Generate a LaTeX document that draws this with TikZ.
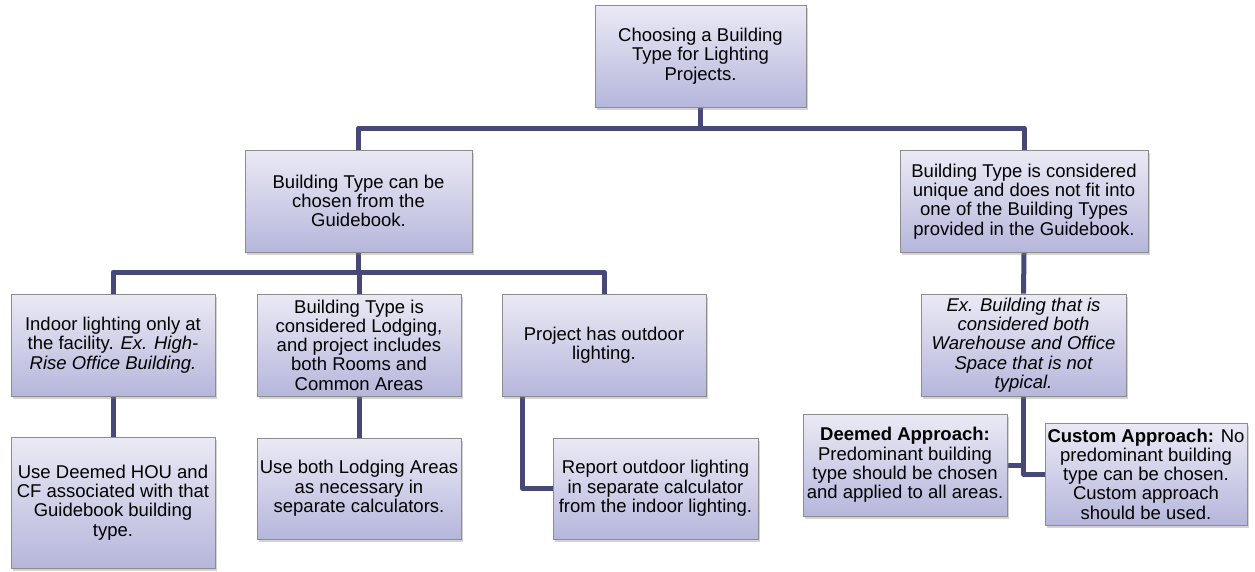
\documentclass[tikz,border=0pt]{standalone}
\usepackage{fontspec}
\setmainfont{Liberation Sans}
\usetikzlibrary{shadows,backgrounds}
\definecolor{boxtop}{RGB}{234,234,245}
\definecolor{boxbot}{RGB}{182,182,220}
\definecolor{linkcol}{RGB}{72,72,120}
\begin{document}
\begin{tikzpicture}[x=1pt,y=-1pt,
  box/.style={draw=gray!90,line width=0.8pt,top color=boxtop,bottom color=boxbot,
    align=center,inner sep=0pt,minimum height=102pt,
    font=\fontsize{18.5}{19.3}\selectfont,
    drop shadow={shadow xshift=1.5pt,shadow yshift=-2.5pt,opacity=0.35}},
  link/.style={draw=linkcol,line width=5pt,line join=round}]
\useasboundingbox (0,0) rectangle (1255,571);
% top level
\node[box,minimum width=211pt] (top) at (700.5,56) {Choosing a Building\\Type for Lighting\\Projects.};
\node[box,minimum width=227pt] (lmid) at (358.5,201) {Building Type can be\\chosen from the\\Guidebook.};
\node[box,minimum width=248pt] (rmid) at (1024,201.5) {Building Type is considered\\unique and does not fit into\\one of the Building Types\\provided in the Guidebook.};
% third row
\node[box,minimum width=204pt] (indoor) at (113,345) {Indoor lighting only at\\the facility. \textit{Ex. High-}\\\textit{Rise Office Building.}};
\node[box,minimum width=204pt] (lodging) at (359,345) {Building Type is\\considered Lodging,\\and project includes\\both Rooms and\\Common Areas};
\node[box,minimum width=204pt] (outdoor) at (604,345) {Project has outdoor\\lighting.};
\node[box,minimum width=205pt,font=\fontsize{18.5}{19.3}\selectfont\itshape] (mixed) at (1023.5,345) {Ex. Building that is\\considered both\\Warehouse and Office\\Space that is not\\typical.};
% bottom row
\node[box,minimum width=204pt,minimum height=131pt] (deemedhou) at (113,502.5) {Use Deemed HOU and\\CF associated with that\\Guidebook building\\type.};
\node[box,minimum width=204pt,minimum height=101pt] (bothareas) at (359,488.5) {Use both Lodging Areas\\as necessary in\\separate calculators.};
\node[box,minimum width=205pt,minimum height=101pt] (separate) at (655.5,488.5) {Report outdoor lighting\\in separate calculator\\from the indoor lighting.};
\node[box,minimum width=204pt] (deemed) at (905,465) {\textbf{Deemed Approach:}\\Predominant building\\type should be chosen\\and applied to all areas.};
\node[box,minimum width=202pt] (custom) at (1146,474) {\textbf{Custom Approach:} No\\predominant building\\type can be chosen.\\Custom approach\\should be used.};
% connectors
\coordinate (bus1) at (700.5,128);
\coordinate (bus2) at (358.5,272);
\begin{pgfonlayer}{background}
\draw[link] (top.south) -- (bus1) -| (lmid.north);
\draw[link] (bus1) -| (rmid.north);
\draw[link] (lmid.south) -- (bus2) -| (indoor.north);
\draw[link] (bus2) -| (lodging.north);
\draw[link] (bus2) -| (outdoor.north);
\draw[link] (rmid.south) -- (mixed.north);
\draw[link] (indoor.south) -- (deemedhou.north);
\draw[link] (lodging.south) -- (bothareas.north);
\draw[link] ([xshift=21pt]outdoor.south west) |- (separate.west);
\draw[link] (mixed.south) |- (deemed.east);
\draw[link] (mixed.south) |- (custom.west);
\end{pgfonlayer}
\end{tikzpicture}
\end{document}
